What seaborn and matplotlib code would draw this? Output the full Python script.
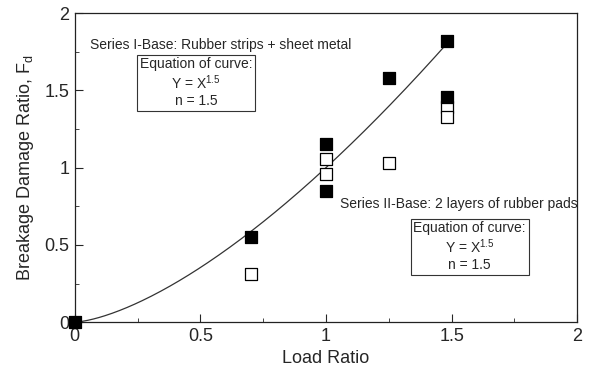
import numpy as np
import pandas as pd
import matplotlib
matplotlib.use("Agg")
import matplotlib.pyplot as plt
import seaborn as sns
from matplotlib.ticker import MultipleLocator

# ---- data ----
filled_x = [0.0, 0.70, 1.00, 1.00, 1.25, 1.48, 1.48]
filled_y = [0.0, 0.55, 1.15, 0.85, 1.58, 1.82, 1.46]
open_x = [0.70, 1.00, 1.00, 1.25, 1.48, 1.48]
open_y = [0.31, 1.055, 0.96, 1.03, 1.39, 1.33]
curve_exponent = 1.5          # "Equation of curve: Y = X^1.5"
curve_x_range = [0.0, 1.48]
x_ticks = [0, 0.5, 1, 1.5, 2]
y_ticks = [0, 0.5, 1, 1.5, 2]

sns.set_style("ticks")
plt.rcParams['font.family'] = ['Liberation Sans', 'DejaVu Sans']
plt.rcParams['mathtext.fontset'] = 'custom'
plt.rcParams['mathtext.rm'] = 'Liberation Sans'
plt.rcParams['mathtext.it'] = 'Liberation Sans'

fig = plt.figure(figsize=(5.89, 3.75), dpi=100)
ax = fig.add_axes([0.127, 0.141, 0.853, 0.824])

cx = np.linspace(curve_x_range[0], curve_x_range[1], 200)
curve = pd.DataFrame({"x": cx, "y": cx ** curve_exponent})
sns.lineplot(data=curve, x="x", y="y", ax=ax, color="#333333", lw=0.9)

df_f = pd.DataFrame({"x": filled_x, "y": filled_y})
df_o = pd.DataFrame({"x": open_x, "y": open_y})
sns.scatterplot(data=df_o, x="x", y="y", ax=ax, marker="s", s=72,
                facecolor="white", edgecolor="black", linewidth=0.9, zorder=3,
                clip_on=False)
sns.scatterplot(data=df_f, x="x", y="y", ax=ax, marker="s", s=72,
                color="black", edgecolor="black", linewidth=0.9, zorder=4,
                clip_on=False)

ax.set_xlim(0, 2)
ax.set_ylim(0, 2)
ax.set_xticks(x_ticks)
ax.set_yticks(y_ticks)
ax.set_xticklabels([f"{t:g}" for t in x_ticks])
ax.set_yticklabels([f"{t:g}" for t in y_ticks])
ax.xaxis.set_minor_locator(MultipleLocator(0.25))
ax.yaxis.set_minor_locator(MultipleLocator(0.25))
ax.tick_params(which="major", direction="in", length=6, width=0.8, labelsize=13, pad=4)
ax.tick_params(which="minor", direction="in", length=3, width=0.6)
for s in ax.spines.values():
    s.set_visible(True)
    s.set_linewidth(0.9)
    s.set_color("#222222")

ax.set_xlabel("Load Ratio", fontsize=13, labelpad=4)
ax.set_ylabel(r"Breakage Damage Ratio, F$_{\mathrm{d}}$", fontsize=13, labelpad=6)

fs = 10
eq_text = "Equation of curve:\n" + r"Y = X$^{\mathrm{1.5}}$" + "\nn = 1.5"
ax.text(0.06, 1.793, "Series I-Base: Rubber strips + sheet metal", fontsize=fs,
        ha="left", va="center")
ax.text(0.482, 1.55, eq_text, fontsize=fs,
        ha="center", va="center", multialignment="center", linespacing=1.15,
        bbox=dict(boxstyle="square,pad=0.2", fc="white", ec="#333333", lw=0.8))
ax.text(1.056, 0.764, "Series II-Base: 2 layers of rubber pads", fontsize=fs,
        ha="left", va="center")
ax.text(1.572, 0.489, eq_text, fontsize=fs,
        ha="center", va="center", multialignment="center", linespacing=1.15,
        bbox=dict(boxstyle="square,pad=0.2", fc="white", ec="#333333", lw=0.8))

fig.savefig("out.png", dpi=100)
